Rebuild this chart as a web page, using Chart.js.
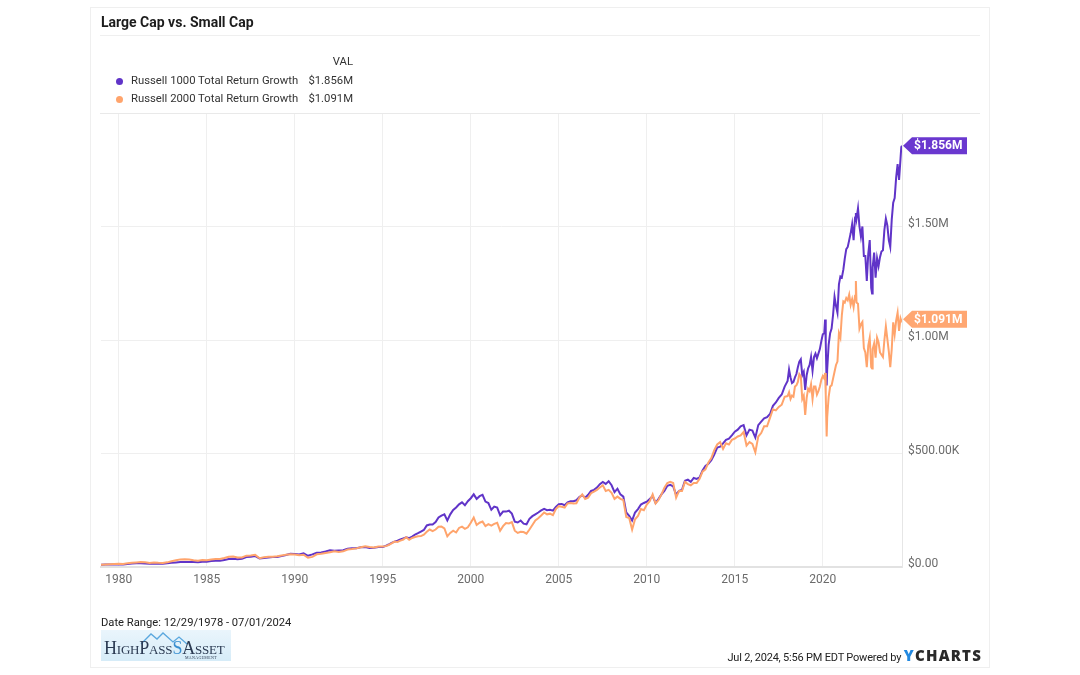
<!DOCTYPE html>
<html>
<head>
<meta charset="utf-8">
<script src="https://cdn.jsdelivr.net/npm/chart.js@4.4.1/dist/chart.umd.min.js"></script>
<style>
html,body{margin:0;padding:0;background:#fff;width:1080px;height:675px;overflow:hidden;font-family:Roboto,"Liberation Sans",sans-serif;}
#c{position:absolute;left:0;top:0;}
.abs{position:absolute;white-space:nowrap;}
#card{position:absolute;left:90px;top:7px;width:900px;height:661px;border:1px solid #efefef;box-sizing:border-box;}
#title{left:101px;top:14px;font-size:14px;font-weight:700;color:#1c1c1c;}
#titleRule{position:absolute;left:100px;top:35px;width:880px;height:1px;background:#efefef;}
#plotRule{position:absolute;left:100px;top:113px;width:880px;height:1px;background:#e9e9e9;}
.leg{font-size:11.3px;color:#333;line-height:14px;}
.dot{position:absolute;width:7px;height:7px;border-radius:50%;}
#foot1{left:101px;top:616px;font-size:11.2px;color:#222;line-height:14px;}
#foot2{right:98px;top:647px;font-size:11px;color:#222;line-height:16px;letter-spacing:-0.2px;}
#yc{font-weight:900;font-size:15px;letter-spacing:1.2px;color:#2a2a2a;font-family:"Open Sans",Roboto,sans-serif;}
#yc span{color:#2389e0;}
#logo{position:absolute;left:101px;top:630px;width:130px;height:31px;background:linear-gradient(#eaf5fc,#d6ecf8);}
#logoText{position:absolute;left:3px;top:9px;font-family:"Liberation Serif","DejaVu Serif",serif;font-variant:small-caps;font-size:18px;color:#2b3a52;letter-spacing:-0.2px;line-height:18px;}
#logoSub{position:absolute;left:84px;top:25px;font-family:"Liberation Serif",serif;font-size:4px;color:#2b3a52;letter-spacing:0.3px;}
</style>
</head>
<body>
<canvas id="c" width="1080" height="675"></canvas>
<div id="card"></div>
<div id="title" class="abs">Large Cap vs. Small Cap</div>
<div id="titleRule"></div>
<div id="plotRule"></div>
<div id="legend"></div>
<div id="foot1" class="abs"></div>
<div id="foot2" class="abs"></div>
<div id="logo">
  <svg width="130" height="31" style="position:absolute;left:0;top:0">
    <polyline points="40,14 50,4 56,9 62,3 72,12 78,7 86,14" fill="none" stroke="#5aa7de" stroke-width="1.3"/>
  </svg>
  <div id="logoText">HighPass<span style="color:#3a8fd0">S</span>Asset</div>
  <div id="logoSub">MANAGEMENT</div>
</div>
<script>
// ---------- DATA ----------
const chartTitle = "Large Cap vs. Small Cap";
const seriesNames = ["Russell 1000 Total Return Growth", "Russell 2000 Total Return Growth"];
const seriesValueLabels = ["$1.856M", "$1.091M"];
const seriesColors = ["#6034c8", "#ffa46c"];
const tagColors = ["#6a38cf", "#ffa772"];
const dateRangeText = "Date Range: 12/29/1978 - 07/01/2024";
const stampText = "Jul 2, 2024, 5:56 PM EDT Powered by";

const xTickYears = [1980, 1985, 1990, 1995, 2000, 2005, 2010, 2015, 2020];
const yTickValues = [0, 500, 1000, 1500];               // $K
const yTickLabels = ["$0.00", "$500.00K", "$1.00M", "$1.50M"];

// dates as decimal years
const dates = [
 1978.99,1979.25,1979.50,1979.75,
 1980.00,1980.25,1980.50,1980.75,
 1981.00,1981.25,1981.50,1981.75,
 1982.00,1982.25,1982.50,1982.75,
 1983.00,1983.25,1983.50,1983.75,
 1984.00,1984.25,1984.50,1984.75,
 1985.00,1985.25,1985.50,1985.75,
 1986.00,1986.25,1986.50,1986.75,
 1987.00,1987.25,1987.50,1987.75,
 1988.00,1988.25,1988.50,1988.75,
 1989.00,1989.25,1989.50,1989.75,
 1990.00,1990.25,1990.50,1990.75,
 1991.00,1991.25,1991.50,1991.75,
 1992.00,1992.25,1992.50,1992.75,
 1993.00,1993.25,1993.50,1993.75,
 1994.00,1994.25,1994.50,1994.75,
 1995.000,1995.167,1995.333,1995.500,1995.667,1995.833,
 1996.000,1996.167,1996.333,1996.500,1996.667,1996.833,
 1997.000,1997.167,1997.333,1997.500,1997.667,1997.833,
 1998.000,1998.167,1998.333,1998.500,1998.667,1998.833,
 1999.000,1999.167,1999.333,1999.500,1999.667,1999.833,
 2000.000,2000.167,2000.333,2000.500,2000.667,2000.833,
 2001.000,2001.167,2001.333,2001.500,2001.667,2001.833,
 2002.000,2002.167,2002.333,2002.500,2002.667,2002.833,
 2003.000,2003.167,2003.333,2003.500,2003.667,2003.833,
 2004.000,2004.167,2004.333,2004.500,2004.667,2004.833,
 2005.000,2005.167,2005.333,2005.500,2005.667,2005.833,
 2006.000,2006.167,2006.333,2006.500,2006.667,2006.833,
 2007.000,2007.167,2007.333,2007.500,2007.667,2007.833,
 2008.000,2008.167,2008.333,2008.500,2008.667,2008.833,
 2009.000,2009.167,2009.333,2009.500,2009.667,2009.833,
 2010.000,2010.167,2010.333,2010.500,2010.667,2010.833,
 2011.000,2011.167,2011.333,2011.500,2011.667,2011.833,
 2012.000,2012.167,2012.333,2012.500,2012.667,2012.833,
 2013.000,2013.167,2013.333,2013.500,2013.667,2013.833,
 2014.000,2014.167,2014.333,2014.500,2014.667,2014.833,
 2015.000,2015.167,2015.333,2015.500,2015.667,2015.833,
 2016.000,2016.167,2016.333,2016.500,2016.667,2016.833,
 2017.000,2017.167,2017.333,2017.500,2017.667,2017.833,
 2018.000,2018.083,2018.167,2018.250,2018.333,2018.417,2018.500,2018.583,2018.667,2018.750,2018.833,2018.917,
 2019.000,2019.083,2019.167,2019.250,2019.333,2019.417,2019.500,2019.583,2019.667,2019.750,2019.833,2019.917,
 2020.000,2020.083,2020.130,2020.167,2020.220,2020.250,2020.333,2020.417,2020.500,2020.583,2020.667,2020.750,2020.833,2020.917,
 2021.000,2021.083,2021.167,2021.250,2021.333,2021.417,2021.500,2021.583,2021.667,2021.750,2021.833,2021.880,2021.917,
 2022.000,2022.083,2022.167,2022.250,2022.333,2022.417,2022.500,2022.583,2022.667,2022.750,2022.800,2022.833,2022.917,
 2023.000,2023.083,2023.167,2023.250,2023.333,2023.417,2023.500,2023.583,2023.667,2023.750,2023.833,2023.917,
 2024.000,2024.083,2024.167,2024.250,2024.333,2024.417,2024.460,2024.500
];

// Russell 1000 total return growth of $10K, in $K
const russell1000 = [
 10.0,10.6,11.2,11.5,
 12.3,11.5,13.5,15.0,
 16.0,16.4,15.8,14.6,
 15.2,14.6,13.9,16.9,
 18.4,20.2,21.9,22.0,
 22.4,21.5,20.8,23.2,
 23.6,26.0,27.8,27.5,
 31.2,35.0,36.5,34.5,
 36.8,43.5,45.0,48.0,
 37.8,40.0,42.0,43.5,
 44.3,48.0,53.0,58.5,
 57.8,55.0,60.5,49.5,
 55.4,63.0,64.0,68.0,
 73.7,71.5,73.0,74.0,
 80.3,82.5,83.0,86.5,
 88.5,84.0,84.5,88.0,
 88,93,99,106,112,116,
 121,126,131,127,134,143,
 149,156,163,183,187,187,
 198,218,226,232,205,232,
 251,262,276,285,272,290,
 303,320,300,312,318,288,
 282,252,266,262,228,244,
 244,248,235,200,196,205,
 191,188,212,224,232,240,
 249,256,250,252,248,265,
 277,278,272,285,290,290,
 294,308,316,305,318,335,
 340,350,365,375,366,378,
 360,330,345,320,310,240,
 225,205,240,255,275,282,
 288,300,312,282,300,320,
 335,358,362,355,318,335,
 340,380,385,375,392,388,
 395,425,445,455,470,495,
 526,530,545,560,565,580,
 596,605,620,625,580,605,
 601,570,625,640,655,660,
 674,710,725,745,760,795,
 820,870,835,810,815,835,850,880,905,915,845,860,
 780,845,875,890,925,865,925,940,920,940,960,995,
 1025,1030,1090,990,800,870,980,1030,1050,1110,1190,1150,1120,1245,
 1280,1275,1310,1360,1400,1410,1440,1470,1510,1440,1540,1560,1535,
 1580,1500,1455,1500,1370,1370,1260,1380,1440,1230,1205,1320,1385,
 1275,1360,1325,1365,1390,1395,1485,1535,1505,1440,1410,1530,
 1605,1625,1715,1775,1705,1800,1850,1856
];

// Russell 2000 total return growth of $10K, in $K
const russell2000 = [
 10.0,11.2,12.2,13.3,
 14.3,13.0,16.5,18.5,
 19.8,21.5,21.0,17.5,
 20.2,18.5,17.5,20.5,
 25.3,29.5,33.5,34.0,
 32.6,30.0,28.0,30.5,
 30.2,33.5,35.5,35.0,
 39.6,45.0,46.0,41.5,
 41.9,50.0,50.5,53.5,
 38.5,43.0,45.5,45.0,
 47.7,51.0,54.5,56.0,
 55.4,51.5,54.0,40.5,
 44.6,56.0,58.0,62.0,
 65.1,69.5,66.5,69.0,
 77.1,79.0,82.0,87.0,
 91.7,88.0,86.0,90.5,
 90,92,97,104,112,110,
 116,121,131,120,128,132,
 135,136,142,155,165,158,
 165,177,178,170,135,150,
 160,152,172,178,168,175,
 195,218,185,195,200,180,
 189,182,190,195,160,180,
 194,192,198,160,150,155,
 154,147,165,185,205,215,
 227,240,232,235,228,255,
 268,265,262,280,282,280,
 281,305,320,300,305,325,
 332,340,350,360,335,340,
 327,300,310,300,295,220,
 216,165,210,225,255,250,
 275,290,320,280,295,320,
 349,370,375,370,305,335,
 335,375,365,360,370,370,
 389,420,430,460,480,515,
 540,550,520,545,540,560,
 566,575,580,595,535,550,
 542,505,575,590,620,620,
 657,695,690,705,715,750,
 753,770,740,755,750,795,800,815,850,840,740,755,
 670,745,785,775,805,740,795,795,760,775,795,825,
 841,830,855,760,575,660,750,795,800,830,860,890,905,1030,
 1010,1110,1170,1165,1185,1175,1200,1155,1180,1145,1195,1260,1165,
 1160,1050,1070,1080,965,945,880,975,1010,880,875,960,985,
 922,1010,990,945,935,925,1000,1060,1005,950,880,960,
 1078,1025,1085,1120,1040,1095,1085,1091
];

// ---------- TEXT / LEGEND ----------
document.getElementById('title').textContent = chartTitle;
document.getElementById('foot1').textContent = dateRangeText;
document.getElementById('foot2').innerHTML = stampText + ' <span id="yc"><span>Y</span>CHARTS</span>';
(function(){
  const lg = document.getElementById('legend');
  let html = '<div class="abs leg" style="left:300px;width:53px;text-align:right;top:55px">VAL</div>';
  const rowsY = [74, 92];
  seriesNames.forEach((n,i)=>{
    html += `<div class="dot" style="left:116px;top:${rowsY[i]+4}px;background:${seriesColors[i]}"></div>`;
    html += `<div class="abs leg" style="left:131px;top:${rowsY[i]}px">${n}</div>`;
    html += `<div class="abs leg" style="left:283px;width:70px;text-align:right;top:${rowsY[i]}px">${seriesValueLabels[i]}</div>`;
  });
  lg.innerHTML = html;
})();

// ---------- CHART ----------
const Y_AXIS_W = 80, X_AXIS_H = 28;
const endTags = {
  id: 'endTags',
  afterDatasetsDraw(chart) {
    const {ctx, scales: {x, y}} = chart;
    chart.data.datasets.forEach((ds, i) => {
      const last = ds.data[ds.data.length - 1];
      const px = Math.round(x.getPixelForValue(last.x)) + 1;
      const py = y.getPixelForValue(last.y);
      const h = 17, tip = 9, w = 64;
      ctx.save();
      ctx.fillStyle = ds.tagColor;
      ctx.beginPath();
      ctx.moveTo(px, py);
      ctx.lineTo(px + tip, py - h / 2);
      ctx.lineTo(px + w, py - h / 2);
      ctx.lineTo(px + w, py + h / 2);
      ctx.lineTo(px + tip, py + h / 2);
      ctx.closePath();
      ctx.fill();
      ctx.fillStyle = '#fff';
      ctx.font = 'bold 12px Roboto';
      ctx.textBaseline = 'middle';
      ctx.textAlign = 'left';
      ctx.fillText(ds.tagText, px + tip + 2, py + 0.5);
      ctx.restore();
    });
  }
};

const ctx = document.getElementById('c').getContext('2d');
new Chart(ctx, {
  type: 'line',
  data: {
    datasets: [
      {
        label: seriesNames[0],
        data: dates.map((d, i) => ({x: d, y: russell1000[i]})),
        borderColor: seriesColors[0], borderWidth: 2, pointRadius: 0, tension: 0,
        order: 2, tagColor: tagColors[0], tagText: seriesValueLabels[0]
      },
      {
        label: seriesNames[1],
        data: dates.map((d, i) => ({x: d, y: russell2000[i]})),
        borderColor: seriesColors[1], borderWidth: 2, pointRadius: 0, tension: 0,
        order: 1, tagColor: tagColors[1], tagText: seriesValueLabels[1]
      }
    ]
  },
  options: {
    responsive: false,
    animation: false,
    devicePixelRatio: 1,
    layout: {padding: {left: 101, top: 113, right: 1080 - 902 - Y_AXIS_W, bottom: 675 - 567 - X_AXIS_H}},
    plugins: {legend: {display: false}, tooltip: {enabled: false}},
    scales: {
      x: {
        type: 'linear', min: 1978.99, max: 2024.5,
        afterBuildTicks: s => { s.ticks = xTickYears.map(v => ({value: v})); },
        afterFit: s => { s.height = X_AXIS_H; },
        ticks: {callback: v => String(v), color: '#6b6b6b', font: {size: 12, family: 'Roboto'}, padding: 6, maxRotation: 0, autoSkip: false},
        grid: {color: '#efefef', drawTicks: false},
        border: {color: '#e2e2e2', width: 2}
      },
      y: {
        position: 'right', min: 0, max: 2000,
        afterBuildTicks: s => { s.ticks = yTickValues.map(v => ({value: v})); },
        afterFit: s => { s.width = Y_AXIS_W; },
        ticks: {callback: v => yTickLabels[yTickValues.indexOf(v)], color: '#6b6b6b', font: {size: 12, family: 'Roboto'}, padding: 6, labelOffset: -3},
        grid: {color: '#efefef', drawTicks: false},
        border: {color: '#e6e6e6', width: 1}
      }
    }
  },
  plugins: [endTags]
});
</script>
</body>
</html>
